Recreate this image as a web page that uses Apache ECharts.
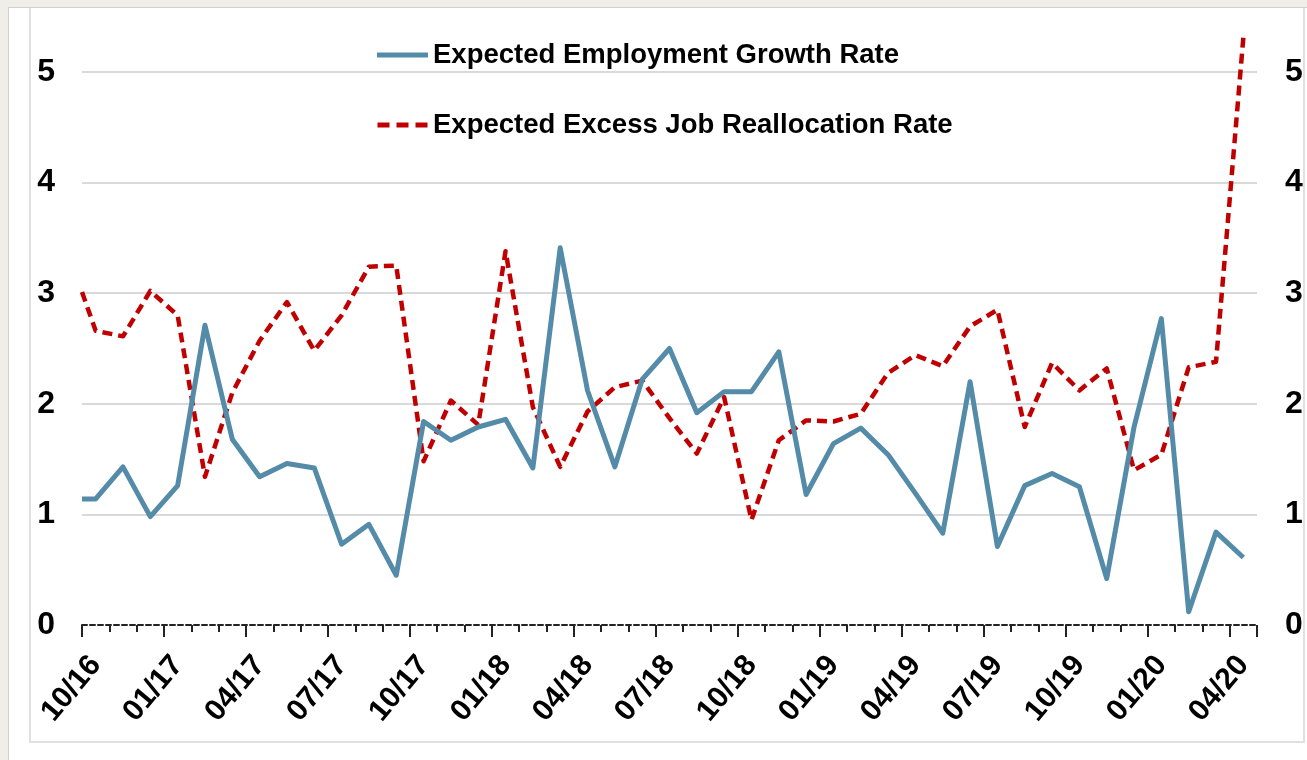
<!DOCTYPE html>
<html>
<head>
<meta charset="utf-8">
<script src="https://cdn.jsdelivr.net/npm/echarts@6/dist/echarts.min.js"></script>
<style>
  html, body { margin: 0; padding: 0; width: 1307px; height: 760px; overflow: hidden; background: #efeee9; }
  #page { position: absolute; left: 8px; top: 7px; right: 0; bottom: 0; background: #fff;
          border-left: 1px solid #d3d1cb; border-top: 1px solid #d3d1cb; overflow: hidden; }
  #frame { position: absolute; left: 20px; top: -10px; width: 1276px; height: 745px;
           box-sizing: border-box; border: 2px solid #e0e0e0; }
  #chart { position: absolute; left: 0; top: 0; width: 1307px; height: 760px; }
</style>
</head>
<body>
<div id="page"><div id="frame"></div></div>
<div id="chart"></div>
<script>
// Monthly survey months, Oct 2016 – Apr 2020
const months = [
  '10/16','11/16','12/16',
  '01/17','02/17','03/17','04/17','05/17','06/17','07/17','08/17','09/17','10/17','11/17','12/17',
  '01/18','02/18','03/18','04/18','05/18','06/18','07/18','08/18','09/18','10/18','11/18','12/18',
  '01/19','02/19','03/19','04/19','05/19','06/19','07/19','08/19','09/19','10/19','11/19','12/19',
  '01/20','02/20','03/20','04/20'
];

// First reading sits at the opening edge of the axis; the rest are mid-month values
const growthRate = [
  1.14,
  1.14, 1.43, 0.98, 1.26, 2.71, 1.68, 1.34, 1.46, 1.42, 0.73, 0.91, 0.45,
  1.84, 1.67, 1.79, 1.86, 1.42, 3.41, 2.12, 1.43, 2.22, 2.50, 1.92, 2.11,
  2.11, 2.47, 1.18, 1.64, 1.78, 1.54, 1.19, 0.83, 2.20, 0.71, 1.26, 1.37,
  1.25, 0.42, 1.79, 2.77, 0.12, 0.84, 0.61
];
const reallocationRate = [
  3.01,
  2.66, 2.61, 3.02, 2.80, 1.34, 2.10, 2.57, 2.92, 2.48, 2.80, 3.24, 3.25,
  1.48, 2.03, 1.81, 3.38, 1.97, 1.43, 1.93, 2.15, 2.21, 1.87, 1.55, 2.06,
  0.95, 1.67, 1.85, 1.84, 1.91, 2.28, 2.44, 2.34, 2.70, 2.85, 1.79, 2.37,
  2.12, 2.32, 1.40, 1.54, 2.33, 2.38, 5.31
];

const seriesNames = ['Expected Employment Growth Rate', 'Expected Excess Job Reallocation Rate'];

// position of each reading, in months from the start of the axis
const readingPos = [0].concat(months.map((_, i) => i + 0.5));
const toPoints = vals => vals.map((v, i) => [readingPos[i], v]);

const FONT = "'Liberation Sans', Arial, sans-serif";
const labelText = { color: '#000', fontWeight: 'bold', fontFamily: FONT };

const BLUE = '#548ba8';
const RED = '#c00000';

// legend keys: a solid bar and a three-dash bar
const solidKey = 'path://M0,0h51v5h-51z';
const dashKey = 'path://M0,0h12v5h-12zM19,0h12v5h-12zM38,0h12v5h-12z';

const chart = echarts.init(document.getElementById('chart'), null, { renderer: 'canvas' });

const yCommon = {
  type: 'value', min: 0, max: 5.5, interval: 1,
  axisLine: { show: false }, axisTick: { show: false },
};

chart.setOption({
  animation: false,
  grid: { left: 82, right: 50, top: 16.7, bottom: 135, containLabel: false },
  legend: {
    orient: 'vertical', left: 377, top: 40, padding: 0,
    itemWidth: 51, itemHeight: 5, itemGap: 40,
    data: [
      { name: seriesNames[0], icon: solidKey, itemStyle: { color: BLUE } },
      { name: seriesNames[1], icon: dashKey, itemStyle: { color: RED } }
    ],
    textStyle: Object.assign({ fontSize: 27.5, lineHeight: 30 }, labelText)
  },
  xAxis: [
    {
      type: 'category', data: months, boundaryGap: true, position: 'bottom',
      axisLine: { show: true, lineStyle: { color: '#222', width: 2, type: [5, 3] } },
      axisTick: { show: true, interval: 0, length: 7, lineStyle: { color: '#222', width: 2 } },
      axisLabel: Object.assign({ interval: 2, rotate: 50, fontSize: 30, margin: 35 }, labelText),
      splitLine: { show: false }
    },
    {
      type: 'category', data: months, boundaryGap: true, position: 'bottom',
      axisLine: { show: false },
      axisTick: { show: true, interval: i => i % 3 === 0, length: 12, lineStyle: { color: '#222', width: 2 } },
      axisLabel: { show: false },
      splitLine: { show: false }
    },
    { type: 'value', min: 0, max: months.length, show: false }
  ],
  yAxis: [
    Object.assign({}, yCommon, {
      position: 'left',
      axisLabel: Object.assign({ fontSize: 32, margin: 27, showMaxLabel: false, padding: [4, 0, 0, 0],
        formatter: v => Number.isInteger(v) ? String(v) : '' }, labelText),
      splitLine: { show: true, showMinLine: false, showMaxLine: false,
        lineStyle: { color: '#d9d9d9', width: 2 } }
    }),
    Object.assign({}, yCommon, {
      position: 'right',
      axisLabel: Object.assign({ fontSize: 32, margin: 28, showMaxLabel: false, padding: [4, 0, 0, 0],
        formatter: v => Number.isInteger(v) ? String(v) : '' }, labelText),
      splitLine: { show: false }
    })
  ],
  series: [
    {
      name: seriesNames[0], type: 'line', xAxisIndex: 2, yAxisIndex: 0,
      data: toPoints(growthRate), symbol: 'none',
      lineStyle: { color: BLUE, width: 5, join: 'round' },
      itemStyle: { color: BLUE }, z: 3
    },
    {
      name: seriesNames[1], type: 'line', xAxisIndex: 2, yAxisIndex: 0,
      data: toPoints(reallocationRate), symbol: 'none',
      lineStyle: { color: RED, width: 4.5, type: [10, 6], cap: 'butt', join: 'round' },
      itemStyle: { color: RED }, z: 2
    }
  ]
});
</script>
</body>
</html>
